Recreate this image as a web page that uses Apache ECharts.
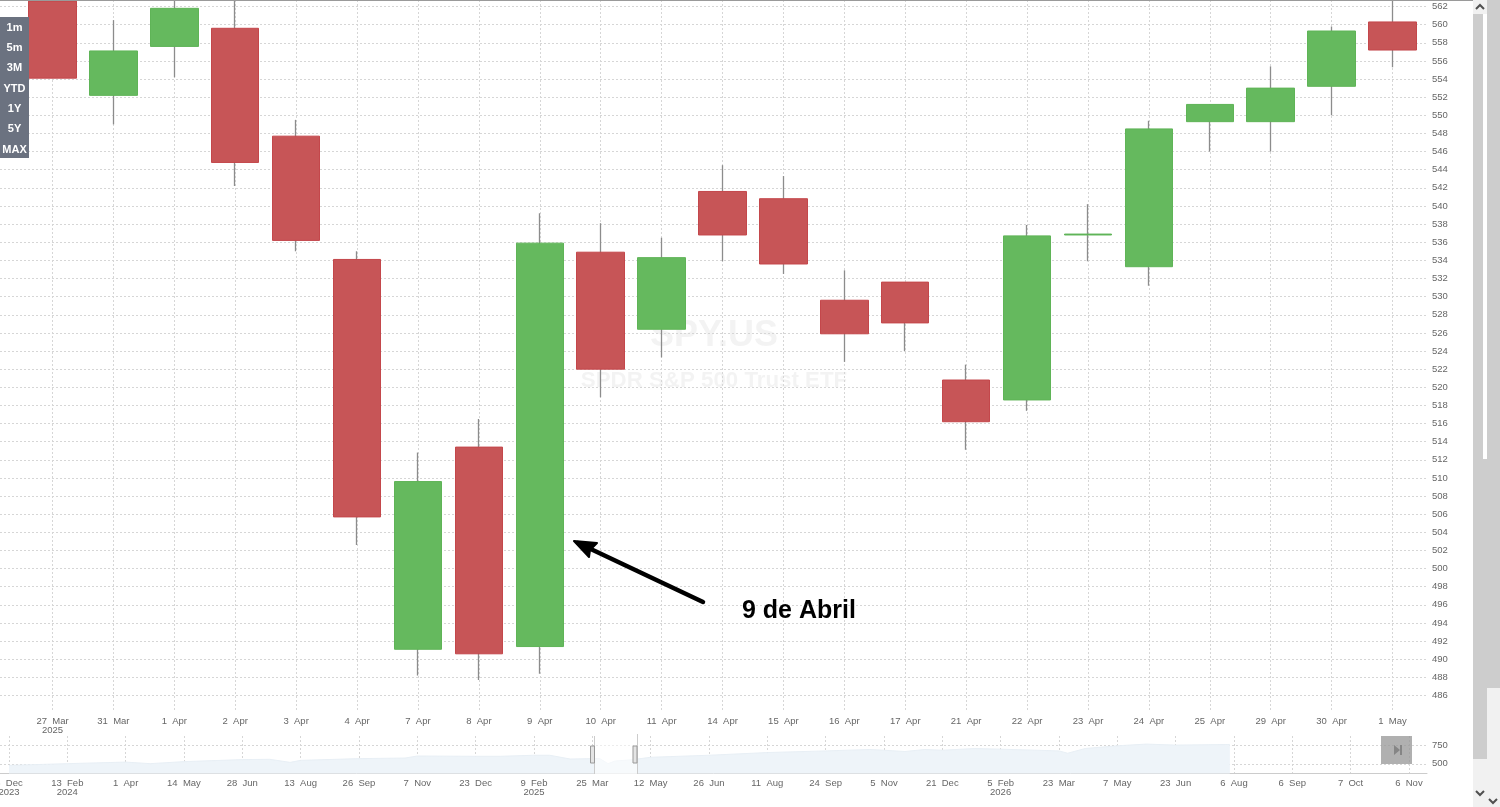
<!DOCTYPE html>
<html>
<head>
    <meta charset="utf-8">
    <title>SPY.US</title>
    <script src="https://cdn.jsdelivr.net/npm/echarts@6/dist/echarts.min.js"></script>
    <style>
        *{
            padding: 0;
            margin: 0;
        }
        html, body{
            width: 100%;
            height: 100%;
            overflow: hidden;
            background: #fff;
        }
        #main{
            width: 1500px;
            height: 807px;
        }
    </style>
</head>
<body>
    <div id="main"></div>
<script>
    // sessions
    var days = ['27  Mar\n2025','31  Mar','1  Apr','2  Apr','3  Apr','4  Apr','7  Apr','8  Apr','9  Apr','10  Apr','11  Apr','14  Apr','15  Apr','16  Apr','17  Apr','21  Apr','22  Apr','23  Apr','24  Apr','25  Apr','29  Apr','30  Apr','1  May'];
    var opens  = [562.6,552.2,557.6,559.6,547.7,534.1,491.1,513.4,491.4,534.9,526.4,541.6,540.8,529.6,531.6,520.8,518.6,536.8,533.3,549.3,549.3,553.2,560.3];
    var closes = [554.1,557.1,561.8,544.8,536.2,505.7,509.6,490.6,535.9,522.0,534.3,536.8,533.6,525.9,527.1,516.2,536.7,536.9,548.5,551.2,553.0,559.3,557.2];
    var lows   = [554.1,549.0,554.2,542.2,535.0,502.6,488.2,487.7,488.4,518.9,523.3,533.9,532.5,522.8,524.0,513.1,517.4,533.9,531.2,546.0,546.0,550.0,555.3];
    var highs  = [564.0,560.5,564.0,564.0,549.5,535.0,512.8,516.5,539.2,538.1,536.5,544.5,543.3,532.9,531.6,522.5,537.9,540.2,549.4,551.2,555.4,559.8,564.0];
    var priceTicks = [486,488,490,492,494,496,498,500,502,504,506,508,510,512,514,516,518,520,522,524,526,528,530,532,534,536,538,540,542,544,546,548,550,552,554,556,558,560,562];

    // navigator
    var navLabels = ['8  Dec\n2023','13  Feb\n2024','1  Apr','14  May','28  Jun','13  Aug','26  Sep','7  Nov','23  Dec','9  Feb\n2025','25  Mar','12  May','26  Jun','11  Aug','24  Sep','5  Nov','21  Dec','5  Feb\n2026','23  Mar','7  May','23  Jun','6  Aug','6  Sep','7  Oct','6  Nov'];
    var navPos = [0,1,2,2.42,3,4,4.47,4.82,5,6,6.79,7,8,8.42,9,9.27,9.62,10,10.13,10.27,10.39,10.7,11,12,13,14,14.76,15,15.36,15.7,16,16.56,17,18,18.15,18.45,19,19.5,20,20.93];
    var navVals = [480,503,524,503,530,557,561,520,547,570,578,605,601,601,615,615,565,570,570,503,538,557,588,615,651,673,692,682,665,692,682,705,696,673,642,705,741,764,750,759];
    var navTicks = [500,750];

    var rangeButtons = ['1m','5m','3M','YTD','1Y','5Y','MAX'];

    var green = '#65b95e', red = '#c75557';
    var font = '"Liberation Sans", Arial, sans-serif';

    var wickData = [], bodyData = [], sessions = [];
    for (var i = 0; i < days.length; i++) {
        sessions.push(i);
        wickData.push([i, opens[i], closes[i], lows[i], highs[i]]);
        bodyData.push([i, opens[i], closes[i], Math.min(opens[i], closes[i]), Math.max(opens[i], closes[i])]);
    }
    var navIdx = navLabels.map(function (d, i) { return i; });
    var dash = {color: '#d6d6d6', type: [2, 2], width: 1};

    var graphics = [
        {type: 'rect', shape: {x: 0, y: 0, width: 1473, height: 1}, style: {fill: '#9a9a9a'}, z: 20},
        // watermark
        {type: 'text', x: 714, y: 336, silent: true, z: 0, style: {text: 'SPY.US', font: 'bold 36px ' + font, fill: 'rgba(120,120,120,0.09)', align: 'center', verticalAlign: 'middle'}},
        {type: 'text', x: 714, y: 381, silent: true, z: 0, style: {text: 'SPDR S&P 500 Trust ETF', font: 'bold 22.3px ' + font, fill: 'rgba(120,120,120,0.09)', align: 'center', verticalAlign: 'middle'}},
        // range buttons
        {type: 'rect', shape: {x: 0, y: 17, width: 29, height: 141}, style: {fill: '#6b7280'}, z: 20},
        // arrow
        {type: 'polyline', shape: {points: [[703, 602], [578, 543]]}, style: {stroke: '#000', lineWidth: 4.5, fill: null, lineCap: 'round'}, z: 20},
        {type: 'polygon', shape: {points: [[597, 543], [574, 541], [589, 557], [590, 550]]}, style: {fill: '#000', stroke: '#000', lineWidth: 2, lineJoin: 'round'}, z: 20},
        {type: 'text', x: 742, y: 611, z: 20, style: {text: '9 de Abril', font: 'bold 25px ' + font, fill: '#000', align: 'left', verticalAlign: 'middle'}},
        // navigator window
        {type: 'rect', shape: {x: 595, y: 736, width: 42, height: 39}, style: {fill: 'rgba(255,255,255,0.55)'}, z: 20},
        {type: 'rect', shape: {x: 594, y: 736, width: 1, height: 38}, style: {fill: '#cccccc'}, z: 21},
        {type: 'rect', shape: {x: 637, y: 734, width: 1, height: 40}, style: {fill: '#cccccc'}, z: 21},
        {type: 'rect', shape: {x: 590.5, y: 746, width: 4, height: 17}, style: {fill: '#e4e4e4', stroke: '#999', lineWidth: 1}, z: 22},
        {type: 'rect', shape: {x: 633, y: 746, width: 4, height: 17}, style: {fill: '#e4e4e4', stroke: '#999', lineWidth: 1}, z: 22},
        // play button
        {type: 'rect', shape: {x: 1381, y: 736, width: 31, height: 28}, style: {fill: 'rgba(150,150,150,0.75)'}, z: 20},
        {type: 'polygon', shape: {points: [[1394, 745], [1394, 755], [1400, 750]]}, style: {fill: '#858585'}, z: 21},
        {type: 'rect', shape: {x: 1400, y: 745, width: 2, height: 10}, style: {fill: '#858585'}, z: 21},
        // scrollbars
        {type: 'rect', shape: {x: 1473, y: 0, width: 14, height: 807}, style: {fill: '#f1f1f1'}, z: 20},
        {type: 'rect', shape: {x: 1473, y: 14, width: 14, height: 745}, style: {fill: '#cdcdcd'}, z: 21},
        {type: 'rect', shape: {x: 1487, y: 0, width: 13, height: 688}, style: {fill: '#cdcdcd'}, z: 20},
        {type: 'rect', shape: {x: 1487, y: 688, width: 13, height: 119}, style: {fill: '#f1f1f1'}, z: 20},
        {type: 'rect', shape: {x: 1483, y: 14, width: 4, height: 445}, style: {fill: '#ffffff'}, z: 22},
        {type: 'polyline', shape: {points: [[1476, 9], [1480, 5], [1484, 9]]}, style: {stroke: '#505050', lineWidth: 2, fill: null}, z: 22},
        {type: 'polyline', shape: {points: [[1476, 791], [1480, 795], [1484, 791]]}, style: {stroke: '#505050', lineWidth: 2, fill: null}, z: 22},
        {type: 'polyline', shape: {points: [[1489, 799], [1493, 803], [1497, 799]]}, style: {stroke: '#505050', lineWidth: 2, fill: null}, z: 22}
    ];
    rangeButtons.forEach(function (b, i) {
        graphics.push({type: 'text', x: 14.5, y: 27.5 + i * 20.33, z: 21, style: {text: b, font: 'bold 11px ' + font, fill: '#fff', align: 'center', verticalAlign: 'middle'}});
    });

    var myChart = echarts.init(document.getElementById('main'));
    myChart.setOption({
        animation: false,
        graphic: graphics,
        grid: [
            {left: 0, width: 1427, top: 0, height: 712, outerBoundsMode: 'none'},
            {left: 0, width: 1427, top: 736, height: 37.5, outerBoundsMode: 'none'}
        ],
        xAxis: [
            {
                type: 'value', gridIndex: 0, min: -0.862, max: 22.566,
                axisLine: {show: false},
                axisTick: {show: false, customValues: sessions},
                splitLine: {show: true, lineStyle: dash},
                axisLabel: {
                    customValues: sessions, hideOverlap: false, margin: 5, color: '#666', fontSize: 9.5, fontFamily: font, lineHeight: 9,
                    formatter: function (v) { return days[v]; }
                }
            },
            {
                type: 'value', gridIndex: 1, min: -0.154, max: 24.31,
                axisLine: {show: true, onZero: false, lineStyle: {color: '#cccccc', width: 1}},
                axisTick: {show: false, customValues: navIdx},
                splitLine: {show: true, lineStyle: dash},
                axisLabel: {
                    customValues: navIdx, hideOverlap: false, margin: 5, color: '#666', fontSize: 9.5, fontFamily: font, lineHeight: 9,
                    formatter: function (v) { return navLabels[v]; }
                }
            }
        ],
        yAxis: [
            {
                type: 'value', gridIndex: 0, position: 'right', min: 484.18, max: 562.72, scale: true,
                axisLine: {show: false},
                axisTick: {show: false, customValues: priceTicks},
                splitLine: {show: true, lineStyle: dash},
                axisLabel: {customValues: priceTicks, margin: 5, color: '#666', fontSize: 9.5, fontFamily: font}
            },
            {
                type: 'value', gridIndex: 1, position: 'right', min: 371.6, max: 871.6,
                axisLine: {show: false},
                axisTick: {show: false, customValues: navTicks},
                splitLine: {show: true, lineStyle: dash},
                axisLabel: {customValues: navTicks, margin: 5, color: '#666', fontSize: 9.5, fontFamily: font}
            }
        ],
        series: [
            {
                // grey wicks behind the bodies
                type: 'candlestick', name: 'wicks', xAxisIndex: 0, yAxisIndex: 0, barWidth: 1, z: 2,
                encode: {x: 0, y: [1, 2, 3, 4]},
                itemStyle: {color: '#8c8c8c', color0: '#8c8c8c', borderColor: '#8c8c8c', borderColor0: '#8c8c8c', borderWidth: 1.3},
                data: wickData
            },
            {
                type: 'candlestick', name: 'SPY.US', xAxisIndex: 0, yAxisIndex: 0, barWidth: 48, z: 3,
                encode: {x: 0, y: [1, 2, 3, 4]},
                itemStyle: {color: green, color0: red, borderColor: '#5fb457', borderColor0: '#c4474b', borderWidth: 1},
                data: bodyData
            },
            {
                type: 'line', name: 'nav', xAxisIndex: 1, yAxisIndex: 1, symbol: 'none', z: 2,
                lineStyle: {color: '#e8eff5', width: 1},
                areaStyle: {color: '#eef4f9', opacity: 1, origin: 'start'},
                data: navPos.map(function (p, i) { return [p, navVals[i]]; })
            }
        ]
    });
</script>
</body>
</html>
